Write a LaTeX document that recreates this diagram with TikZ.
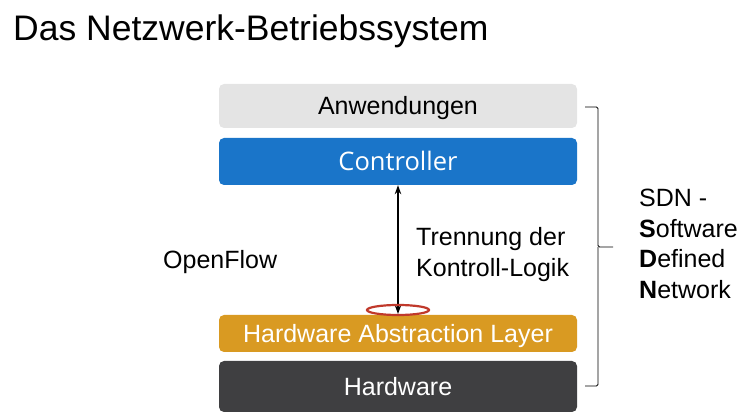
\documentclass[tikz,border=0pt]{standalone}
\usepackage{fontspec}
\setmainfont{Liberation Sans}
\newfontfamily\ctrlfont{Open Sans}
\usetikzlibrary{arrows.meta,shapes.geometric}
\definecolor{appgray}{HTML}{E4E4E4}
\definecolor{ctrlblue}{HTML}{1A75C9}
\definecolor{halorange}{HTML}{D99A22}
\definecolor{hwdark}{HTML}{3F3F41}
\definecolor{ringred}{HTML}{C0392B}
\begin{document}
\begin{tikzpicture}[x=1pt,y=-1pt,
  layer/.style={rounded corners=5pt, minimum width=358pt, inner sep=0pt,
     font=\fontsize{25}{30}\selectfont, text height=18pt, text depth=0pt},
  lbl/.style={font=\fontsize{25}{30.5}\selectfont, inner sep=0pt, align=left},
  conn/.style={line width=1.1pt, {Stealth[length=9pt,width=6.5pt]}-{Stealth[length=9pt,width=6.5pt]}}]
\useasboundingbox (0,0) rectangle (756,414);
\node[anchor=west, inner sep=0pt, font=\fontsize{35.5}{40}\selectfont] (title) at (13,31) {Das Netzwerk-Betriebssystem};
\node[layer, fill=appgray, minimum height=44pt, text=black] (app) at (398,106) {Anwendungen};
\node[layer, fill=ctrlblue, minimum height=47pt, text=white, font=\ctrlfont\fontsize{25.5}{30}\selectfont] (ctrl) at (398,161.5) {Controller};
\node[layer, fill=halorange, minimum height=37pt, text=white] (hal) at (398,333.5) {Hardware Abstraction Layer};
\node[layer, fill=hwdark, minimum height=51pt, text=white] (hw) at (398,386.5) {Hardware};
\node[lbl, anchor=west] (of) at (163,262) {OpenFlow};
\node[lbl, anchor=west, text height=18pt] (trenn) at (416,270) {Trennung der\\Kontroll-Logik};
\coordinate (tip) at (398,314);
\draw[conn] (ctrl.south) -- (tip);
\node[draw=ringred, line width=2.2pt, ellipse, minimum width=62pt, minimum height=10pt, inner sep=0pt] (ring) at (398,310) {};
\draw[thick, rounded corners=1.5pt] (585,107) -- (598,107) -- (598,247) -- (613,247);
\draw[thick, rounded corners=1.5pt] (585,386) -- (598,386) -- (598,247);
\node[lbl, anchor=west, font=\fontsize{25}{30.5}\selectfont] (sdn) at (639,244) {SDN -\\\textbf{S}oftware\\\textbf{D}efined\\\textbf{N}etwork};
\end{tikzpicture}
\end{document}
